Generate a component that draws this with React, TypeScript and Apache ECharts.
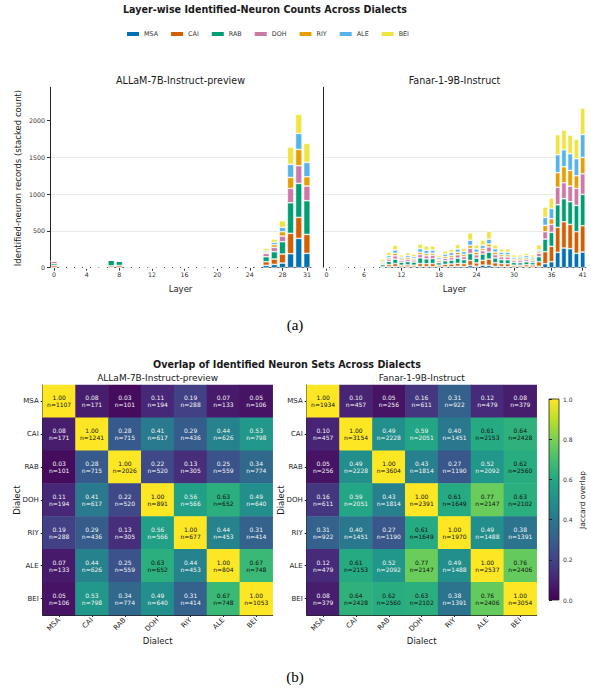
import React, { useEffect, useRef } from 'react';
import * as echarts from 'echarts';

const DIALECTS = ['MSA', 'CAI', 'RAB', 'DOH', 'RIY', 'ALE', 'BEI'];
const COLORS = ['#0072B2', '#D55E00', '#009E73', '#CC79A7', '#E69F00', '#56B4E9', '#F0E442'];

const ALLAM_LAYERS = ['0','1','2','3','4','5','6','7','8','9','10','11','12','13','14','15','16','17','18','19','20','21','22','23','24','25','26','27','28','29','30','31'];
const FANAR_LAYERS = ['0','1','2','3','4','5','6','7','8','9','10','11','12','13','14','15','16','17','18','19','20','21','22','23','24','25','26','27','28','29','30','31','32','33','34','35','36','37','38','39','40','41'];
const ALLAM_TICKS = [0, 4, 8, 12, 16, 20, 24, 28, 31];
const FANAR_TICKS = [0, 6, 12, 18, 24, 30, 36, 41];
const Y_TICKS = [0, 500, 1000, 1500, 2000];

// ALLaM-7B per-layer counts (layers 0..31)
const ALLAM_MSA = [5,0,0,0,0,0,0,5,5,0,0,0,0,0,0,0,0,0,0,0,0,0,1,2,3,2,32,45,63,190,398,195];
const ALLAM_CAI = [25,0,0,0,0,0,1,20,25,3,0,0,0,0,0,0,0,0,0,0,0,0,2,3,5,4,49,73,123,276,285,257];
const ALLAM_RAB = [25,0,0,0,0,0,2,78,60,15,0,0,0,0,0,0,0,0,0,0,0,0,3,5,8,6,68,99,167,416,462,458];
const ALLAM_DOH = [35,0,0,0,0,0,0,0,0,0,0,0,0,0,0,0,0,0,0,0,0,0,1,3,5,3,45,59,77,195,240,199];
const ALLAM_RIY = [0,0,0,0,0,0,0,0,0,0,0,0,0,0,0,0,0,0,0,0,0,0,1,2,3,3,14,36,59,149,221,126];
const ALLAM_ALE = [0,0,0,0,0,0,0,0,0,0,0,0,0,0,0,0,0,0,0,0,0,0,1,3,5,4,18,32,59,177,218,195];
const ALLAM_BEI = [0,0,0,0,0,0,0,0,0,0,0,0,0,0,0,0,0,0,0,0,0,0,1,2,4,3,36,45,90,235,258,258];

// Fanar-1-9B per-layer counts (layers 0..41)
const FANAR_MSA = [0,0,0,0,0,0,0,0,0,2,12,16,9,10,9,16,15,14,9,11,13,20,15,30,20,35,32,17,15,13,9,9,10,9,18,54,81,208,267,258,195,213];
const FANAR_CAI = [0,0,0,0,6,0,0,0,2,8,30,40,25,28,25,40,40,42,25,35,38,40,40,68,45,65,85,50,40,40,25,25,30,28,63,163,209,340,357,330,294,357];
const FANAR_RAB = [0,0,0,0,2,0,0,0,3,30,45,60,40,45,42,78,65,68,35,48,52,70,55,95,65,85,95,65,55,55,38,35,40,35,68,172,190,307,313,308,357,426];
const FANAR_DOH = [0,0,0,0,2,0,0,0,2,12,30,45,25,30,28,45,42,45,25,32,35,45,40,70,45,45,70,45,38,38,25,28,28,25,46,100,108,236,217,213,231,280];
const FANAR_RIY = [0,0,0,0,2,0,0,0,1,15,20,35,20,25,20,30,30,28,20,25,28,35,30,40,35,30,40,35,28,30,20,22,25,22,22,86,77,199,217,212,172,222];
const FANAR_ALE = [0,0,0,0,2,0,0,0,2,18,30,45,25,30,25,50,45,42,25,35,40,45,40,70,45,45,65,45,35,35,25,25,30,25,23,108,140,244,231,227,231,312];
const FANAR_BEI = [0,0,0,0,2,0,0,0,4,30,42,65,30,36,35,63,58,57,30,41,45,60,45,100,55,70,107,53,44,44,32,30,32,30,72,141,141,272,267,253,267,358];

const ALLAM_SERIES = [ALLAM_MSA, ALLAM_CAI, ALLAM_RAB, ALLAM_DOH, ALLAM_RIY, ALLAM_ALE, ALLAM_BEI];
const FANAR_SERIES = [FANAR_MSA, FANAR_CAI, FANAR_RAB, FANAR_DOH, FANAR_RIY, FANAR_ALE, FANAR_BEI];

// Jaccard overlap matrices and intersection sizes
const ALLAM_J = [
  [1.00, 0.08, 0.03, 0.11, 0.19, 0.07, 0.05],
  [0.08, 1.00, 0.28, 0.41, 0.29, 0.44, 0.53],
  [0.03, 0.28, 1.00, 0.22, 0.13, 0.25, 0.34],
  [0.11, 0.41, 0.22, 1.00, 0.56, 0.63, 0.49],
  [0.19, 0.29, 0.13, 0.56, 1.00, 0.44, 0.31],
  [0.07, 0.44, 0.25, 0.63, 0.44, 1.00, 0.67],
  [0.05, 0.53, 0.34, 0.49, 0.31, 0.67, 1.00],
];
const ALLAM_N = [
  [1107, 171, 101, 194, 288, 133, 106],
  [171, 1241, 715, 617, 436, 626, 798],
  [101, 715, 2026, 520, 305, 559, 774],
  [194, 617, 520, 891, 566, 652, 640],
  [288, 436, 305, 566, 677, 453, 414],
  [133, 626, 559, 652, 453, 804, 748],
  [106, 798, 774, 640, 414, 748, 1053],
];
const FANAR_J = [
  [1.00, 0.10, 0.05, 0.16, 0.31, 0.12, 0.08],
  [0.10, 1.00, 0.49, 0.59, 0.40, 0.61, 0.64],
  [0.05, 0.49, 1.00, 0.43, 0.27, 0.52, 0.62],
  [0.16, 0.59, 0.43, 1.00, 0.61, 0.77, 0.63],
  [0.31, 0.40, 0.27, 0.61, 1.00, 0.49, 0.38],
  [0.12, 0.61, 0.52, 0.77, 0.49, 1.00, 0.76],
  [0.08, 0.64, 0.62, 0.63, 0.38, 0.76, 1.00],
];
const FANAR_N = [
  [1934, 457, 256, 611, 922, 479, 379],
  [457, 3154, 2228, 2051, 1451, 2153, 2428],
  [256, 2228, 3604, 1814, 1190, 2092, 2560],
  [611, 2051, 1814, 2391, 1649, 2147, 2102],
  [922, 1451, 1190, 1649, 1970, 1488, 1391],
  [479, 2153, 2092, 2147, 1488, 2537, 2406],
  [379, 2428, 2560, 2102, 1391, 2406, 3054],
];

const VIRIDIS = ['#440154', '#482475', '#414487', '#355f8d', '#2a788e', '#21918c', '#22a884', '#44bf70', '#7ad151', '#bddf26', '#fde725'];

const FONT = 'DejaVu Sans';

function txt(text: string, x: number, y: number, fontSize: number, extra: any = {}) {
  return {
    type: 'text',
    x,
    y,
    rotation: extra.rotation || 0,
    silent: true,
    style: {
      text,
      fontSize,
      fontFamily: extra.family || FONT,
      fontWeight: extra.weight || 'normal',
      fill: extra.fill || '#1a1a1a',
      align: 'center',
      verticalAlign: 'middle',
      textAlign: 'center',
      textVerticalAlign: 'middle',
    },
  };
}

function heatData(J: number[][], N: number[][]) {
  const out: any[] = [];
  for (let r = 0; r < J.length; r++) {
    for (let c = 0; c < J[r].length; c++) {
      out.push({
        value: [c, r, J[r][c], N[r][c]],
        label: { color: J[r][c] >= 0.6 ? '#111' : '#f4f4f4' },
      });
    }
  }
  return out;
}

function buildOption() {
  const barSeries: any[] = [];
  DIALECTS.forEach((d, i) => {
    barSeries.push({
      name: d,
      type: 'bar',
      xAxisIndex: 0,
      yAxisIndex: 0,
      stack: 'allam',
      barWidth: '80%',
      data: ALLAM_SERIES[i],
      itemStyle: { color: COLORS[i], borderColor: '#fff', borderWidth: 0.6 },
      emphasis: { disabled: true },
    });
  });
  DIALECTS.forEach((d, i) => {
    barSeries.push({
      name: d,
      type: 'bar',
      xAxisIndex: 1,
      yAxisIndex: 1,
      stack: 'fanar',
      barWidth: '80%',
      data: FANAR_SERIES[i],
      itemStyle: { color: COLORS[i], borderColor: '#fff', borderWidth: 0.6 },
      emphasis: { disabled: true },
    });
  });

  const heatLabel = {
    show: true,
    fontSize: 6,
    lineHeight: 7,
    fontFamily: FONT,
    formatter: (p: any) => `${p.value[2].toFixed(2)}\nn=${p.value[3]}`,
  };

  const heatSeries = [
    {
      type: 'heatmap',
      xAxisIndex: 2,
      yAxisIndex: 2,
      data: heatData(ALLAM_J, ALLAM_N),
      label: heatLabel,
      itemStyle: { borderWidth: 0 },
      emphasis: { disabled: true },
    },
    {
      type: 'heatmap',
      xAxisIndex: 3,
      yAxisIndex: 3,
      data: heatData(FANAR_J, FANAR_N),
      label: heatLabel,
      itemStyle: { borderWidth: 0 },
      emphasis: { disabled: true },
    },
  ];

  const barXAxis = (gridIndex: number, data: string[], ticks: number[]) => ({
    type: 'category',
    gridIndex,
    data,
    boundaryGap: true,
    axisLine: { show: true, lineStyle: { color: '#555', width: 1.2 } },
    axisTick: {
      show: true,
      alignWithLabel: true,
      length: 3,
      interval: (idx: number) => ticks.indexOf(idx) >= 0,
      lineStyle: { color: '#333' },
    },
    axisLabel: {
      interval: (idx: number) => ticks.indexOf(idx) >= 0,
      fontSize: 6.3,
      color: '#333',
      margin: 4,
      fontFamily: FONT,
    },
    splitLine: { show: false },
  });

  const barYAxis = (gridIndex: number, showLabels: boolean) => ({
    type: 'value',
    gridIndex,
    min: 0,
    max: 2450,
    interval: 500,
    axisLine: { show: true, lineStyle: { color: '#222', width: 1 } },
    axisTick: { show: showLabels, length: 3, customValues: Y_TICKS, lineStyle: { color: '#333' } },
    axisLabel: {
      show: showLabels,
      customValues: Y_TICKS,
      fontSize: 6.3,
      color: '#333',
      margin: 5,
      fontFamily: FONT,
      formatter: (v: number) => String(v),
    },
    splitLine: { show: true, showMaxLine: false, lineStyle: { color: '#e3e3e3', width: 0.8 } },
  });

  const heatXAxis = (gridIndex: number) => ({
    type: 'category',
    gridIndex,
    data: DIALECTS,
    axisLine: { show: true, lineStyle: { color: '#222', width: 1 } },
    axisTick: { show: true, alignWithLabel: true, length: 2, lineStyle: { color: '#222' } },
    axisLabel: { rotate: 45, fontSize: 7, color: '#222', margin: 4, fontFamily: FONT },
    splitLine: { show: false },
  });

  const heatYAxis = (gridIndex: number) => ({
    type: 'category',
    gridIndex,
    data: DIALECTS,
    inverse: true,
    axisLine: { show: true, lineStyle: { color: '#222', width: 1 } },
    axisTick: { show: true, alignWithLabel: true, length: 2, lineStyle: { color: '#222' } },
    axisLabel: { fontSize: 7, color: '#222', margin: 4, fontFamily: FONT },
    splitLine: { show: false },
  });

  const gradientStops = VIRIDIS.map((c, i) => ({ offset: i / (VIRIDIS.length - 1), color: c }));

  const graphic: any[] = [
    txt('Layer-wise Identified-Neuron Counts Across Dialects', 265, 9, 9.6, { weight: 'bold' }),
    txt('ALLaM-7B-Instruct-preview', 180.5, 80, 9.6),
    txt('Fanar-1-9B-Instruct', 454.5, 80, 9.6),
    txt('Identified-neuron records (stacked count)', 18, 178, 8.5, { rotation: Math.PI / 2 }),
    txt('Layer', 180.5, 289, 8.5),
    txt('Layer', 454.5, 289, 8.5),
    txt('(a)', 295, 325, 15, { family: 'Liberation Serif', fill: '#000' }),
    txt('Overlap of Identified Neuron Sets Across Dialects', 287, 364, 9.6, { weight: 'bold' }),
    txt('ALLaM-7B-Instruct-preview', 157.7, 378, 9),
    txt('Fanar-1-9B-Instruct', 421.7, 378, 9),
    txt('Dialect', 17, 500, 8.5, { rotation: Math.PI / 2 }),
    txt('Dialect', 281, 500, 8.5, { rotation: Math.PI / 2 }),
    txt('Dialect', 157.7, 641, 8.5),
    txt('Dialect', 421.7, 641, 8.5),
    txt('Jaccard overlap', 582, 500, 7.5, { rotation: Math.PI / 2 }),
    txt('(b)', 295, 677, 15, { family: 'Liberation Serif', fill: '#000' }),
    {
      type: 'rect',
      silent: true,
      shape: { x: 549, y: 399, width: 10, height: 201 },
      style: {
        fill: new echarts.graphic.LinearGradient(0, 1, 0, 0, gradientStops),
        stroke: '#222',
        lineWidth: 0.8,
      },
    },
  ];

  return {
    animation: false,
    backgroundColor: '#fff',
    textStyle: { fontFamily: FONT },
    legend: {
      data: DIALECTS,
      left: 122,
      top: 26,
      itemWidth: 12,
      itemHeight: 4,
      itemGap: 13,
      icon: 'rect',
      selectedMode: false,
      textStyle: { fontSize: 6.4, color: '#333', fontFamily: FONT },
      itemStyle: { borderWidth: 0 },
    },
    grid: [
      { left: 50, top: 87.3, width: 261, height: 180.4 },
      { left: 323.3, top: 87.3, width: 262.5, height: 180.4 },
      { left: 42.7, top: 385, width: 230, height: 230 },
      { left: 306.7, top: 385, width: 230, height: 230 },
      { left: 549, top: 399, width: 10, height: 201 },
    ],
    xAxis: [
      barXAxis(0, ALLAM_LAYERS, ALLAM_TICKS),
      barXAxis(1, FANAR_LAYERS, FANAR_TICKS),
      heatXAxis(2),
      heatXAxis(3),
      { type: 'value', gridIndex: 4, min: 0, max: 1, show: false },
    ],
    yAxis: [
      barYAxis(0, true),
      barYAxis(1, false),
      heatYAxis(2),
      heatYAxis(3),
      {
        type: 'value',
        gridIndex: 4,
        position: 'right',
        min: 0,
        max: 1,
        interval: 0.2,
        axisLine: { show: false },
        axisTick: { show: true, length: 3, lineStyle: { color: '#222' } },
        axisLabel: {
          fontSize: 6,
          color: '#333',
          margin: 4,
          fontFamily: FONT,
          formatter: (v: number) => v.toFixed(1),
        },
        splitLine: { show: false },
      },
    ],
    visualMap: {
      show: false,
      type: 'continuous',
      min: 0,
      max: 1,
      dimension: 2,
      seriesIndex: [14, 15],
      inRange: { color: VIRIDIS },
    },
    series: [...barSeries, ...heatSeries],
    graphic,
  };
}

export default function App() {
  const ref = useRef<HTMLDivElement>(null);
  useEffect(() => {
    if (!ref.current) return;
    const chart = echarts.init(ref.current, null, { renderer: 'svg' });
    chart.setOption(buildOption() as any);
    return () => {
      chart.dispose();
    };
  }, []);
  return (
    <div
      ref={ref}
      style={{ position: 'absolute', left: 0, top: 0, width: 591, height: 691, background: '#fff' }}
    />
  );
}
